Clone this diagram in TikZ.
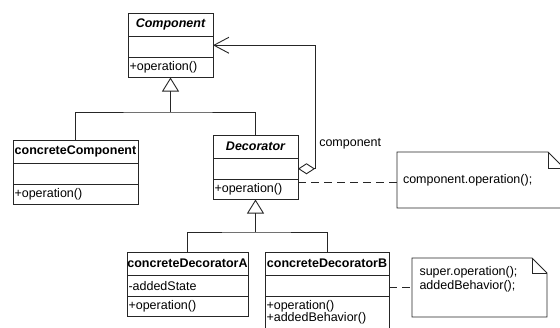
\documentclass[tikz,border=0pt]{standalone}
\usepackage{fontspec}
\setmainfont{Liberation Sans}
\usepackage{tikz}
\usetikzlibrary{arrows.meta, positioning, calc}
\newcommand{\umlfont}{\fontsize{12.5pt}{12pt}\selectfont}

\begin{document}
\begin{tikzpicture}[x=1pt, y=-1pt,
        umlline/.style={line width=0.9pt, draw=black!85},
        clsname/.style={umlline, anchor=north west, outer sep=0pt, inner sep=0pt,
                        minimum width=#1, minimum height=23.5pt, font=\umlfont\bfseries},
        clspart/.style={umlline, outer sep=0pt, inner xsep=1.5pt, inner ysep=1pt,
                        text width=#1-3pt, minimum height=20.5pt, align=left, font=\umlfont},
        notebox/.style={anchor=north west, outer sep=0pt, inner xsep=6pt,
                        align=left, font=\umlfont},
        inherit/.style={-{Triangle[open, length=14pt, width=17pt]}},
        dep/.style={umlline, dash pattern=on 8pt off 5pt}
      ]
        \useasboundingbox (0,0) rectangle (560,327);
        % classes
        \node[clsname=85pt] (comp) at (128,13) {\itshape Component};
        \node[clspart=85pt, below=0pt of comp] (comp-a) {};
        \node[clspart=85pt, below=0pt of comp-a] (comp-o) {+operation()};

        \node[clsname=125pt] (cc) at (13,140) {concreteComponent};
        \node[clspart=125pt, below=0pt of cc] (cc-a) {};
        \node[clspart=125pt, below=0pt of cc-a] (cc-o) {+operation()};

        \node[clsname=85pt] (dec) at (213,135) {\itshape Decorator};
        \node[clspart=85pt, below=0pt of dec] (dec-a) {};
        \node[clspart=85pt, below=0pt of dec-a] (dec-o) {+operation()};

        \node[clsname=121pt] (da) at (127,252) {concreteDecoratorA};
        \node[clspart=121pt, below=0pt of da] (da-a) {-addedState};
        \node[clspart=121pt, below=0pt of da-a] (da-o) {+operation()};

        \node[clsname=124pt] (db) at (265,252) {concreteDecoratorB};
        \node[clspart=124pt, below=0pt of db] (db-a) {};
        \node[clspart=124pt, below=0pt of db-a, minimum height=32pt] (db-o)
          {+operation()\\+addedBehavior()};

        % notes
        \node[notebox, minimum width=167pt, minimum height=56pt, text width=155pt] (n1)
          at (397,152) {component.operation();};
        \node[notebox, minimum width=135pt, minimum height=59pt, inner ysep=8pt] (n2)
          at (412,258) {\parbox[t][43pt][t]{120pt}{super.operation();\\[2pt]addedBehavior();}};
        \foreach \n/\f in {n1/16pt, n2/15pt} {
          \draw[umlline] (\n.north west) -- ([xshift=-\f]\n.north east)
            -- ([yshift=-\f]\n.north east) -- (\n.south east) -- (\n.south west) -- cycle;
          \draw[umlline] ([xshift=-\f]\n.north east) |- ([yshift=-\f]\n.north east);
        }

        % generalisations
        \coordinate[below=34.5pt of comp-o] (j1);
        \coordinate[below=32.5pt of dec-o] (j2);
        \draw[umlline] (cc.north) |- (j1) -| (dec.north);
        \draw[umlline, inherit] (j1) -- (comp-o.south);
        \draw[umlline] (da.north) |- (j2) -| (db.north);
        \draw[umlline, inherit] (j2) -- (dec-o.south);

        % aggregation
        \draw[umlline, {Diamond[open, length=17pt, width=11pt]}-{Straight Barb[length=15pt, width=16pt]}]
          (dec-a.east) -- ++(17.5,0) |- node[pos=0.1, right, font=\umlfont] {component}
          ([yshift=1.5pt]comp-a.east);

        % note links
        \draw[dep] ([yshift=-2pt]dec-o.east |- n1.west) -- ([yshift=-2pt]n1.west);
        \draw[dep] (db-a.east |- n2.west) -- (n2.west);
      \end{tikzpicture}
\end{document}
